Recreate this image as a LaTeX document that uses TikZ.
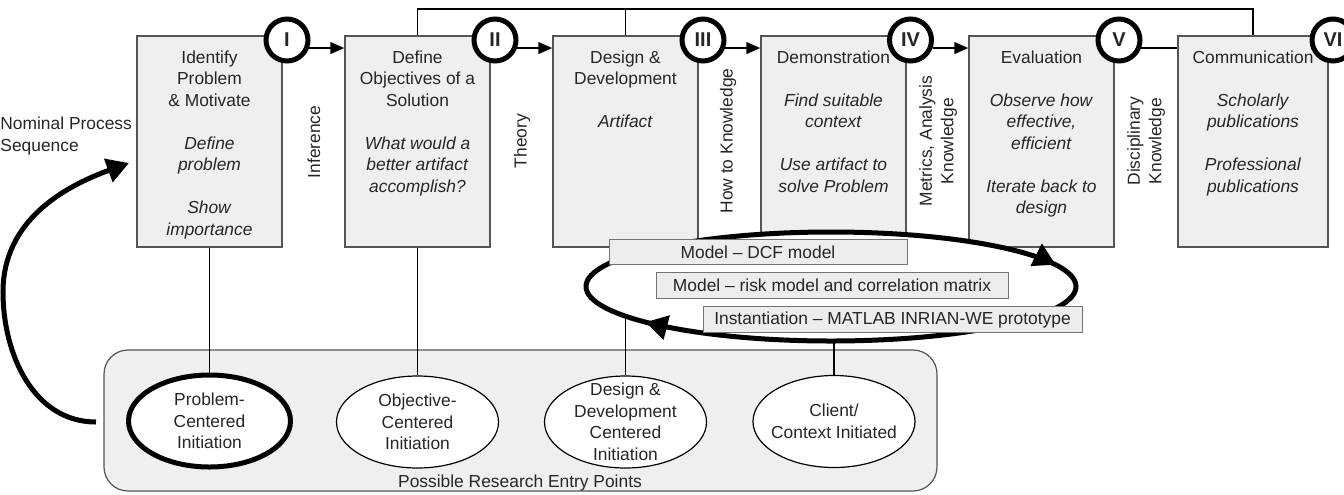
\documentclass[tikz,border=0pt]{standalone}
\usepackage{fontspec}
\setmainfont{Liberation Sans}
\usetikzlibrary{arrows.meta,shapes.geometric,decorations.markings}

\definecolor{boxgray}{HTML}{EFEFEF}
\definecolor{edgegray}{HTML}{555555}
\newcommand{\gap}{10.75pt}

\tikzset{
  stepbox/.style={draw=edgegray, line width=0.75pt, fill=boxgray, minimum width=72.5pt, minimum height=105.5pt, inner sep=0pt},
  boxtext/.style={anchor=north, align=center, inner sep=0pt},
  stage/.style={circle, draw, line width=2.5pt, fill=white, minimum size=21pt, inner sep=0pt, font=\bfseries},
  flow/.style={line width=0.75pt, -{Triangle[length=7pt,width=6pt]}},
  link/.style={line width=0.6pt},
  sidelabel/.style={rotate=90, align=center, inner sep=0pt},
  entry/.style={ellipse, draw, line width=0.6pt, fill=white, minimum width=81pt, minimum height=46pt, inner sep=0pt},
  entrytext/.style={align=center, inner sep=0pt},
  artifact/.style={draw=black!55, line width=0.5pt, fill=black!7, minimum height=12.75pt, inner sep=0pt},
  heavy/.style={line width=2.5pt, -{Triangle[length=11pt,width=12pt]}},
  cycleline/.style={line width=2.5pt, fill=white, postaction={decorate},
    decoration={markings,
      mark=at position 0.47 with {\arrow{Triangle[length=11pt,width=12pt]}},
      mark=at position 0.93 with {\arrow{Triangle[length=11pt,width=12pt]}}}}
}

\begin{document}
\begin{tikzpicture}[x=0.5pt, y=0.5pt, font=\fontsize{8.7}{10.75}\selectfont, text=black!85]
 \useasboundingbox (0,0) rectangle (1344,-494);

 % entry points panel
 \node[draw=edgegray, line width=0.6pt, fill=boxgray, rounded corners=12pt, minimum width=416.5pt, minimum height=70.5pt] (panel) at (520.5,-420.5) {};
 \node (panellabel) at (520,-483) {Possible Research Entry Points};

 % process boxes
 \node[stepbox] (b1) at (209.5,-141.5) {};
 \node[stepbox] (b2) at (417.5,-141.5) {};
 \node[stepbox] (b3) at (625.5,-141.5) {};
 \node[stepbox] (b4) at (833.5,-141.5) {};
 \node[stepbox] (b5) at (1041.5,-141.5) {};
 \node[stepbox, minimum width=75pt] (b6) at (1253,-141.5) {};

 \node[boxtext] (t1) at (b1.north |- 0,-50) {Identify\\Problem\\\& Motivate\\[\gap]\textit{Define}\\\textit{problem}\\[\gap]\textit{Show}\\\textit{importance}};
 \node[boxtext] (t2) at (b2.north |- 0,-50) {Define\\Objectives of a\\Solution\\[\gap]\textit{What would a}\\\textit{better artifact}\\\textit{accomplish?}};
 \node[boxtext] (t3) at (b3.north |- 0,-50) {Design \&\\Development\\[\gap]\textit{Artifact}};
 \node[boxtext] (t4) at (b4.north |- 0,-50) {Demonstration\\[\gap]\textit{Find suitable}\\\textit{context}\\[\gap]\textit{Use artifact to}\\\textit{solve Problem}};
 \node[boxtext] (t5) at (b5.north |- 0,-50) {Evaluation\\[\gap]\textit{Observe how}\\\textit{effective,}\\\textit{efficient}\\[\gap]\textit{Iterate back to}\\\textit{design}};
 \node[boxtext] (t6) at (b6.north |- 0,-50) {Communication\\[\gap]\textit{Scholarly}\\\textit{publications}\\[\gap]\textit{Professional}\\\textit{publications}};

 % top bracket
 \coordinate (topbar) at (0,-9);
 \draw[link] (b2.north) -- (b2.north |- topbar) -| (b6.north);
 \draw[link] (b3.north) -- (b3.north |- topbar);

 % knowledge labels
 \node[sidelabel] (inference) at (314,-142) {Inference};
 \node[sidelabel] (theory) at (522,-141) {Theory};
 \node[sidelabel] (howto) at (728,-141) {How to Knowledge};
 \node[sidelabel] (metrics) at (938,-141) {Metrics, Analysis\\Knowledge};
 \node[sidelabel] (discipline) at (1146,-141) {Disciplinary\\Knowledge};

 % entry points
 \node[entry, line width=2.5pt] (e1) at (209.5,-421) {};
 \node[entry] (e2) at (417.5,-422) {};
 \node[entry] (e3) at (625.5,-422) {};
 \node[entry] (e4) at (834,-421.5) {};
 \node[entrytext] (l1) at (e1) {Problem-\\Centered\\Initiation};
 \node[entrytext] (l2) at (e2) {Objective-\\Centered\\Initiation};
 \node[entrytext] (l3) at (e3) {Design \&\\Development\\Centered\\Initiation};
 \node[entrytext] (l4) at (e4) {Client/\\Context Initiated};

 \draw[link] (b1.south) -- (e1.north);
 \draw[link] (b2.south) -- (e2.north);
 \draw[link] (b3.south) -- (e3.north);

 % iteration loop
 \coordinate (cyc) at (831,-286.5);
 \coordinate (cycbot) at (834,-341);
 \draw[cycleline] ([xshift=-122.5pt]cyc) arc[start angle=180, end angle=-180, x radius=122.5pt, y radius=27.25pt];
 \draw[link] (e4.north) -- (cycbot);

 \node[artifact, minimum width=149pt] (dcf) at (758,-252) {Model -- DCF model};
 \node[artifact, minimum width=176pt] (risk) at (832,-285.5) {Model -- risk model and correlation matrix};
 \node[artifact, minimum width=189.5pt] (proto) at (892.5,-319.5) {Instantiation -- MATLAB INRIAN-WE prototype};

 % stage numbers
 \node[stage] (s1) at (287,-40) {I};
 \node[stage] (s2) at (495,-40) {II};
 \node[stage] (s3) at (703,-40) {III};
 \node[stage] (s4) at (910.5,-40) {IV};
 \node[stage] (s5) at (1119,-40) {V};
 \node[stage] (s6) at (1333,-40) {VI};

 \draw[flow] (s1.-20) -- (s1.-20 -| b2.west);
 \draw[flow] (s2.-20) -- (s2.-20 -| b3.west);
 \draw[flow] (s3.-20) -- (s3.-20 -| b4.west);
 \draw[flow] (s4.-20) -- (s4.-20 -| b5.west);
 \draw[line width=0.75pt] (s5.-20) -- (s5.-20 -| b6.west);

 % nominal sequence
 \node[anchor=west, align=left, inner sep=0pt] (nominal) at (0,-136) {Nominal Process\\Sequence};
 \coordinate (nomstart) at (96,-422);
 \coordinate (nomleft) at (3,-292);
 \coordinate (nomend) at (129,-163);
 \draw[heavy] (nomstart) to[out=180,in=270] (nomleft) to[out=90,in=200] (nomend);
\end{tikzpicture}
\end{document}
